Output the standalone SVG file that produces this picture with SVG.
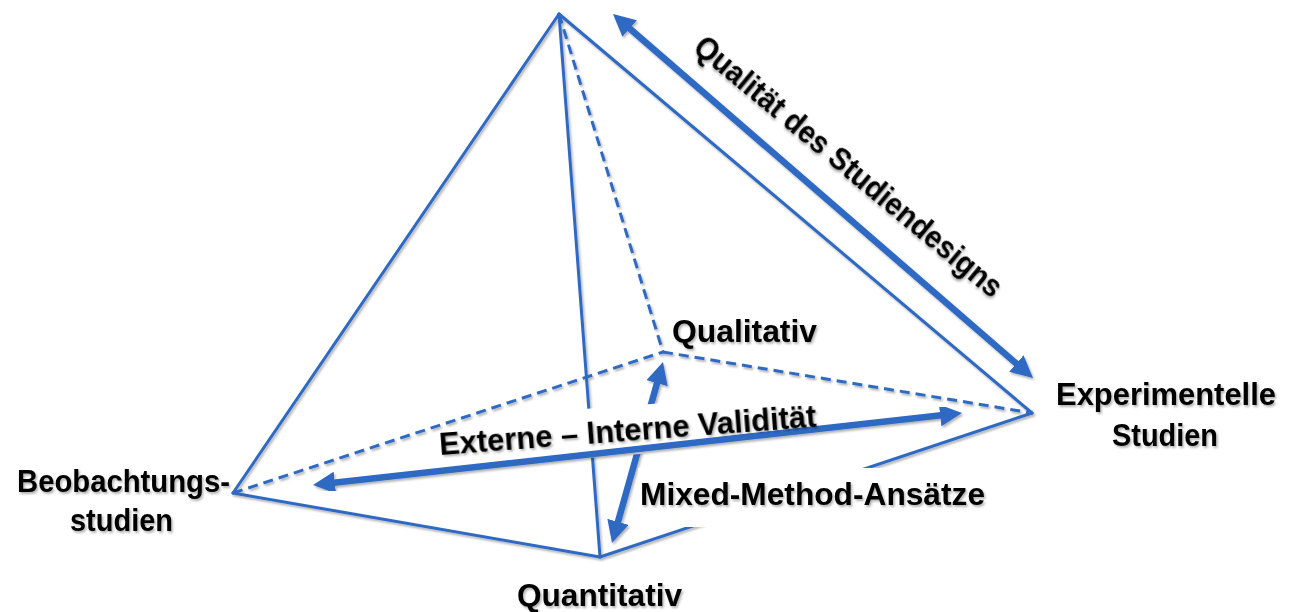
<svg xmlns="http://www.w3.org/2000/svg" width="1290" height="612" viewBox="0 0 1290 612">
  <defs>
    <style>
      .edge { stroke: #2F69C3; stroke-width: 3; fill: none; stroke-linecap: round; stroke-linejoin: round; }
      .dash { stroke-dasharray: 10 6; stroke-linecap: butt; }
      .arrow { stroke: #2F69C3; stroke-width: 6.5; fill: none; marker-start: url(#head); marker-end: url(#head); }
      .lbl { font-family: "Liberation Sans", Arial, sans-serif; font-weight: bold; font-size: 32px; fill: #000; }
      .box { fill: #fff; stroke: none; }
    </style>
    <marker id="head" viewBox="0 0 22 22" refX="8" refY="11" markerWidth="22" markerHeight="22" markerUnits="userSpaceOnUse" orient="auto-start-reverse">
      <path d="M0,0 L22,11 L0,22 z" fill="#2F69C3"/>
    </marker>
    <filter id="sh" x="-10%" y="-10%" width="120%" height="120%">
      <feDropShadow dx="1.5" dy="2" stdDeviation="1.2" flood-color="#000" flood-opacity="0.3"/>
    </filter>
  </defs>
  <rect width="1290" height="612" fill="#fff"/>

  <g id="connectors" filter="url(#sh)">
    <line class="edge" x1="559" y1="14" x2="233" y2="493"/>
    <line class="edge" x1="559" y1="14" x2="600" y2="557"/>
    <line class="edge" x1="559" y1="14" x2="1032" y2="413"/>
    <line class="edge" x1="233" y1="493" x2="600" y2="557"/>
    <line class="edge" x1="600" y1="557" x2="1032" y2="413"/>
    <line class="edge dash" x1="559" y1="14" x2="663" y2="352"/>
    <line class="edge dash" x1="233" y1="493" x2="663" y2="352"/>
    <line class="edge dash" x1="663" y1="352" x2="1032" y2="413"/>
    <line id="arrow-mixed" class="arrow" x1="659.2" y1="375.5" x2="615.8" y2="529.5"/>
    <line id="arrow-quality" class="arrow" x1="623.6" y1="23.2" x2="1022.4" y2="368.8"/>
  </g>

  <g id="label-mixed">
    <rect class="box" x="638" y="468" width="354" height="59"/>
    <text class="lbl" x="640" y="505" textLength="345" lengthAdjust="spacingAndGlyphs" filter="url(#sh)">Mixed-Method-Ansätze</text>
  </g>

  <g id="label-validity">
    <rect class="box" x="45" y="-35" width="349" height="49" transform="translate(440 455) rotate(-4.3)"/>
    <line class="arrow" x1="326.9" y1="483.5" x2="948.1" y2="414.5" filter="url(#sh)"/>
    <text class="lbl" x="440" y="455" transform="rotate(-4.3 440 455)" textLength="378" lengthAdjust="spacingAndGlyphs" filter="url(#sh)">Externe – Interne Validität</text>
  </g>

  <g id="label-quality">
    <text class="lbl" x="692" y="50" transform="rotate(39.7 692 50)" textLength="390" lengthAdjust="spacingAndGlyphs" filter="url(#sh)">Qualität des Studiendesigns</text>
  </g>

  <g id="node-qualitativ">
    <text class="lbl" x="672" y="342" textLength="145" lengthAdjust="spacingAndGlyphs" filter="url(#sh)">Qualitativ</text>
  </g>

  <g id="node-experimentelle">
    <text class="lbl" x="1056" y="405" textLength="220" lengthAdjust="spacingAndGlyphs" filter="url(#sh)">Experimentelle</text>
    <text class="lbl" x="1112" y="446" textLength="106" lengthAdjust="spacingAndGlyphs" filter="url(#sh)">Studien</text>
  </g>

  <g id="node-beobachtung">
    <text class="lbl" x="17" y="492" textLength="213" lengthAdjust="spacingAndGlyphs" filter="url(#sh)">Beobachtungs-</text>
    <text class="lbl" x="70" y="531" textLength="103" lengthAdjust="spacingAndGlyphs" filter="url(#sh)">studien</text>
  </g>

  <g id="node-quantitativ">
    <text class="lbl" x="517" y="606" textLength="165" lengthAdjust="spacingAndGlyphs" filter="url(#sh)">Quantitativ</text>
  </g>
</svg>
